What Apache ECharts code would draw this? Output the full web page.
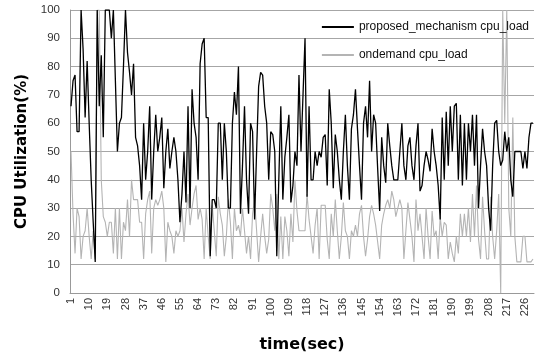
<!DOCTYPE html>
<html>
<head>
<meta charset="utf-8">
<script src="https://cdn.jsdelivr.net/npm/echarts@6/dist/echarts.min.js"></script>
<style>
  html, body { margin: 0; padding: 0; background: #fff; }
  #chart { width: 540px; height: 358px; }
</style>
</head>
<body>
<div id="chart"></div>
<script>
// time axis: 1 .. 230 sec
const timeCount = 230
const yTicks = [0, 10, 20, 30, 40, 50, 60, 70, 80, 90, 100]

const proposedLoad = [
  66, 75, 77, 57, 57, 100, 86, 62, 82, 60, 40, 25, 11, 100, 66, 84, 55, 100, 100, 100,
  90, 100, 75, 50, 60, 62, 80, 100, 85, 78, 70, 81, 55,
  52, 45, 33, 60, 40, 50, 66, 33, 50, 63, 50, 55, 62, 37, 50, 58, 44, 50, 55, 50,
  40, 25, 35, 50, 32, 66, 30, 72, 60, 55, 40, 81,
  88, 90, 62, 62, 13, 33, 33, 30, 60, 60, 40, 60, 50, 30, 30, 60, 71, 63, 80, 28,
  45, 66, 40, 28, 60, 57, 26, 50, 73, 78, 77, 66, 60,
  40, 57, 56, 50, 13, 40, 66, 33, 48, 55, 63, 32, 38, 50, 45, 77, 50, 70, 90, 34,
  66, 40, 40, 50, 45, 50, 48, 55, 56, 38, 72, 60, 37,
  56, 50, 40, 33, 50, 63, 45, 33, 58, 63, 72, 58, 45, 33, 60, 66, 55, 75, 50, 63,
  60, 44, 29, 55, 45, 39, 60, 52, 45, 40, 40, 40, 50,
  60, 45, 40, 52, 55, 45, 40, 52, 60, 36,
  38, 45, 50, 47, 43, 58, 50, 45, 38, 26,
  62, 40, 64, 45, 66, 50, 66, 67, 40, 63,
  38, 60, 40, 60, 50, 63, 45, 63, 30, 45,
  58, 50, 45, 30, 22, 45, 60, 61, 50, 45,
  47, 57, 50, 55, 40, 34, 50, 50, 50, 50,
  44, 50, 44, 55, 60, 60
]

const ondemandLoad = [
  50, 28, 14, 30, 27, 12, 20, 22, 30, 20, 12, 22, 12, 100, 100, 40, 27, 25, 20, 25,
  25, 14, 30, 12, 30, 12, 25, 22, 33, 20, 40, 33, 33,
  33, 25, 25, 12, 28, 33, 36, 14, 30, 33, 31, 33, 36, 30, 11, 25, 22, 20, 14, 22,
  20, 22, 30, 18, 28, 35, 24, 30, 35, 38, 26, 30,
  26, 12, 30, 20, 12, 31, 22, 13, 34, 28, 24, 13, 20, 33, 25, 12, 30, 22, 24, 20,
  30, 22, 14, 20, 12, 28, 33, 22, 11, 20, 28, 20, 14,
  19, 35, 30, 22, 35, 12, 27, 12, 27, 22, 13, 28, 18, 40, 29, 22, 22, 22, 22, 35,
  26, 20, 14, 24, 30, 12, 31, 31, 31, 19, 12, 28, 20,
  33, 22, 12, 20, 32, 22, 20, 12, 22, 20, 24, 20, 28, 31, 20, 13, 19, 27, 31, 28,
  24, 18, 12, 24, 28, 31, 33, 30, 36, 33, 27, 30, 33,
  30, 12, 22, 32, 26, 20, 11, 33, 22, 28,
  20, 12, 30, 20, 12, 29, 20, 22, 12, 27,
  20, 25, 24, 12, 18, 14, 11, 20, 14, 28,
  20, 28, 20, 30, 18, 35, 20, 38, 19, 12,
  34, 22, 12, 12, 34, 20, 12, 22, 35, 0,
  100, 60, 100, 30, 20, 62, 20, 11, 11, 11,
  20, 20, 11, 11, 11, 12
]

const timeLabels = []
for (let t = 1; t <= timeCount; t++) timeLabels.push(String(t))

const chart = echarts.init(document.getElementById('chart'), null, { renderer: 'canvas' })

const option = {
  animation: false,
  grid: {
    left: 70,
    right: 6,
    top: 10,
    bottom: 64
  },
  legend: {
    orient: 'vertical',
    right: 6,
    top: 16,
    itemWidth: 32,
    itemHeight: 2,
    itemGap: 16,
    icon: 'rect',
    textStyle: {
      fontFamily: 'Liberation Sans',
      fontSize: 12,
      color: '#111'
    },
    data: ['proposed_mechanism cpu_load', 'ondemand cpu_load']
  },
  xAxis: {
    type: 'category',
    data: timeLabels,
    name: 'time(sec)',
    nameLocation: 'middle',
    nameGap: 44,
    nameTextStyle: {
      fontFamily: 'DejaVu Sans',
      fontWeight: 'bold',
      fontSize: 16,
      color: '#000',
      verticalAlign: 'top'
    },
    axisLine: { lineStyle: { color: '#999', width: 1 } },
    axisTick: { interval: 0, length: 3, lineStyle: { color: '#999' } },
    axisLabel: {
      interval: 8,
      rotate: 90,
      fontFamily: 'Liberation Sans',
      fontSize: 11,
      color: '#333',
      margin: 5
    },
    splitLine: { show: false }
  },
  yAxis: {
    type: 'value',
    min: 0,
    max: 100,
    interval: 10,
    name: 'CPU Utilization(%)',
    nameLocation: 'middle',
    nameRotate: 90,
    nameGap: 48,
    nameTextStyle: {
      fontFamily: 'DejaVu Sans',
      fontWeight: 'bold',
      fontSize: 15,
      color: '#000',
      verticalAlign: 'middle'
    },
    axisLine: { show: true, lineStyle: { color: '#999' } },
    axisTick: { show: false },
    axisLabel: {
      fontFamily: 'Liberation Sans',
      fontSize: 11.5,
      color: '#333',
      margin: 10,
      formatter: v => (yTicks.indexOf(v) >= 0 ? String(v) : '')
    },
    splitLine: { lineStyle: { color: '#a6a6a6', width: 1 } }
  },
  series: [
    {
      name: 'proposed_mechanism cpu_load',
      type: 'line',
      data: proposedLoad,
      showSymbol: false,
      symbol: 'none',
      z: 3,
      color: '#000',
      lineStyle: { color: '#000', width: 1.3 }
    },
    {
      name: 'ondemand cpu_load',
      type: 'line',
      data: ondemandLoad,
      showSymbol: false,
      symbol: 'none',
      z: 2,
      color: '#b4b4b4',
      lineStyle: { color: '#b4b4b4', width: 1.1 }
    }
  ]
}

chart.setOption(option)
</script>
</body>
</html>
